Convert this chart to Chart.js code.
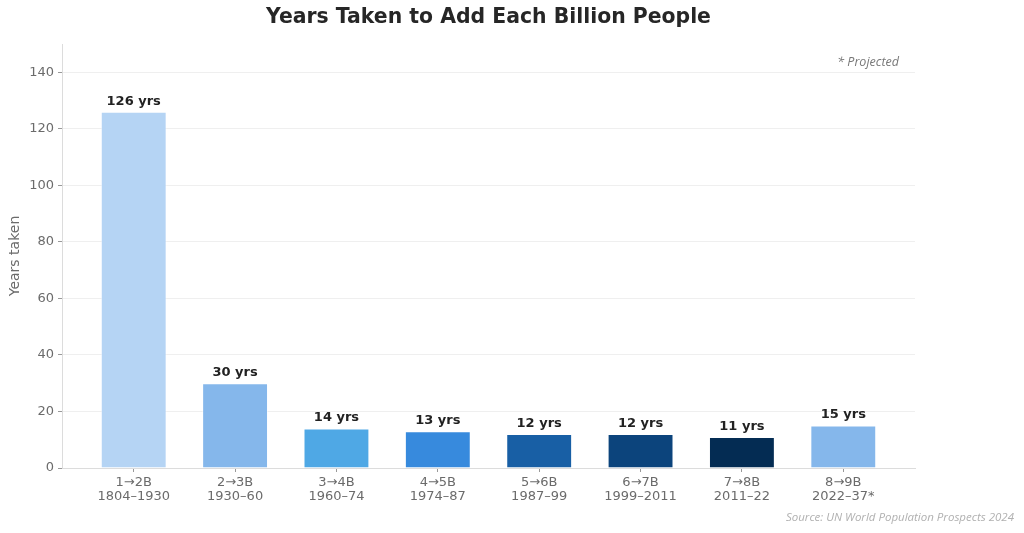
<!DOCTYPE html>
<html>
<head>
<meta charset="utf-8">
<script src="https://cdn.jsdelivr.net/npm/chart.js@4"></script>
<style>
  html, body { margin: 0; padding: 0; background: #fff; }
  #wrap { width: 1024px; height: 533px; position: relative; }
</style>
</head>
<body>
<div id="wrap"><canvas id="barChart" width="1024" height="533"></canvas></div>
<script>
// data
const steps = ['1→2B', '2→3B', '3→4B', '4→5B', '5→6B', '6→7B', '7→8B', '8→9B'];
const periods = ['1804–1930', '1930–60', '1960–74', '1974–87', '1987–99', '1999–2011', '2011–22', '2022–37*'];
const yearsTaken = [126, 30, 14, 13, 12, 12, 11, 15];
const barColors = ['#b5d4f4', '#85b7eb', '#4fa8e5', '#378add', '#185fa5', '#0c447c', '#042c53', '#85b7eb'];
const yTicks = [0, 20, 40, 60, 80, 100, 120, 140];

const FONT = "'DejaVu Sans', sans-serif";

// title, value labels and footnotes
const annotate = {
  id: 'annotate',
  afterDatasetsDraw(chart) {
    const { ctx } = chart;
    const meta = chart.getDatasetMeta(0);
    ctx.save();
    ctx.fillStyle = '#222';
    ctx.font = 'bold 13px ' + FONT;
    ctx.textAlign = 'center';
    ctx.textBaseline = 'bottom';
    meta.data.forEach((bar, i) => {
      ctx.fillText(yearsTaken[i] + ' yrs', bar.x, bar.y - 4);
    });
    ctx.restore();
  },
  afterDraw(chart) {
    const { ctx, chartArea } = chart;
    ctx.save();
    ctx.fillStyle = '#262626';
    ctx.font = 'bold 20.4px ' + FONT;
    ctx.textAlign = 'center';
    ctx.textBaseline = 'middle';
    ctx.fillText('Years Taken to Add Each Billion People', (chartArea.left + chartArea.right) / 2, 18);

    ctx.fillStyle = '#777';
    ctx.font = "italic 12.5px 'Open Sans', sans-serif";
    ctx.textAlign = 'right';
    ctx.fillText('* Projected', chartArea.right - 16, 62);

    ctx.fillStyle = '#b0b0b0';
    ctx.font = "italic 11.5px 'Open Sans', sans-serif";
    ctx.fillText('Source: UN World Population Prospects 2024', 1014, 518);
    ctx.restore();
  }
};

new Chart(document.getElementById('barChart'), {
  type: 'bar',
  data: {
    datasets: [{
      data: yearsTaken.map((v, i) => ({ x: i, y: v })),
      backgroundColor: barColors,
      borderColor: 'rgba(255,255,255,0.5)',
      borderWidth: 1,
      barPercentage: 0.65,
      categoryPercentage: 1
    }]
  },
  options: {
    responsive: false,
    animation: false,
    layout: { padding: { top: 44, right: 109, left: 0, bottom: 0 } },
    plugins: {
      legend: { display: false },
      tooltip: { enabled: false }
    },
    scales: {
      x: {
        type: 'linear',
        offset: false,
        min: -0.7075,
        max: 7.7075,
        afterBuildTicks: s => { s.ticks = steps.map((_, i) => ({ value: i })); },
        afterFit: s => { s.height = 65; },
        ticks: {
          autoSkip: false,
          maxRotation: 0,
          color: '#6b6b6b',
          padding: 3,
          font: { family: FONT, size: 13, lineHeight: 1.1 },
          callback: v => [steps[v], periods[v]]
        },
        grid: { offset: false, drawOnChartArea: false, tickLength: 4, tickColor: '#999' },
        border: { color: '#dcdcdc' }
      },
      y: {
        min: 0,
        max: 150,
        afterBuildTicks: s => { s.ticks = yTicks.map(v => ({ value: v })); },
        afterFit: s => { s.width = 62; },
        ticks: {
          color: '#6b6b6b',
          padding: 4,
          font: { family: FONT, size: 13 }
        },
        grid: { color: '#efefef', tickLength: 4, tickColor: '#999' },
        border: { color: '#dcdcdc' },
        title: {
          display: true,
          text: 'Years taken',
          color: '#6b6b6b',
          font: { family: FONT, size: 14 },
          padding: { top: 7, bottom: 0 }
        }
      }
    }
  },
  plugins: [annotate]
});
</script>
</body>
</html>
